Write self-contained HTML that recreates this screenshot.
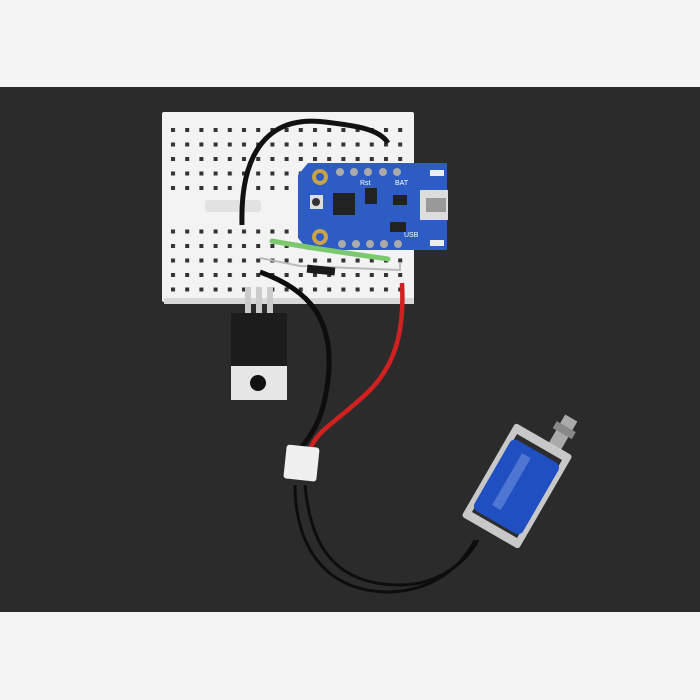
<!DOCTYPE html>
<html><head><style>body{margin:0;background:#f4f4f4}svg{display:block}</style></head><body>
<svg width="700" height="700" viewBox="0 0 700 700" xmlns="http://www.w3.org/2000/svg">
<rect width="700" height="700" fill="#f4f4f4"/>
<rect y="87" width="700" height="525" fill="#2b2b2b"/>
<defs><pattern id="h" x="170" y="127" width="14.2" height="14.5" patternUnits="userSpaceOnUse"><rect x="1" y="1" width="4" height="4" fill="#333"/></pattern></defs>
<rect x="162" y="112" width="252" height="190" fill="#f3f3f3" rx="2"/>
<rect x="168" y="125" width="244" height="72" fill="url(#h)"/>
<rect x="168" y="222" width="244" height="72" fill="url(#h)"/>
<rect x="205" y="200" width="56" height="12" fill="#e2e2e2" rx="3"/>
<rect x="164" y="298" width="250" height="6" fill="#d8d8d8"/>
<path d="M242 225 C240 150 270 115 325 122 C360 126 380 130 388 143" stroke="#111" stroke-width="5" fill="none"/>
<path d="M298 175 L308 163 H447 V250 H308 L298 238 Z" fill="#2c5cc4"/>
<circle cx="320" cy="177" r="8" fill="#c9a34a"/><circle cx="320" cy="177" r="4" fill="#2c5cc4"/>
<circle cx="320" cy="237" r="8" fill="#c9a34a"/><circle cx="320" cy="237" r="4" fill="#2c5cc4"/>
<rect x="310" y="195" width="13" height="14" fill="#ddd"/><circle cx="316" cy="202" r="4" fill="#333"/>
<rect x="333" y="193" width="22" height="22" fill="#222"/>
<rect x="365" y="188" width="12" height="16" fill="#222"/><rect x="393" y="195" width="14" height="10" fill="#222"/>
<rect x="390" y="222" width="16" height="10" fill="#222"/>
<rect x="420" y="190" width="28" height="30" fill="#ddd"/><rect x="426" y="198" width="20" height="14" fill="#999"/>
<g fill="#aaa"><circle cx="340" cy="172" r="4"/><circle cx="354" cy="172" r="4"/><circle cx="368" cy="172" r="4"/><circle cx="383" cy="172" r="4"/><circle cx="397" cy="172" r="4"/>
<circle cx="342" cy="244" r="4"/><circle cx="356" cy="244" r="4"/><circle cx="370" cy="244" r="4"/><circle cx="384" cy="244" r="4"/><circle cx="398" cy="244" r="4"/></g>
<rect x="430" y="170" width="14" height="6" fill="#eee"/><rect x="430" y="240" width="14" height="6" fill="#eee"/>
<text x="360" y="185" font-family="Liberation Sans" font-size="7" fill="#fff">Rst</text>
<text x="395" y="185" font-family="Liberation Sans" font-size="7" fill="#fff">BAT</text>
<text x="404" y="237" font-family="Liberation Sans" font-size="7" fill="#fff">USB</text>
<path d="M272 241 C310 248 360 255 388 259" stroke="#7cc86e" stroke-width="5" fill="none" stroke-linecap="round"/>
<path d="M260 258 L300 266 L400 270 L400 262" stroke="#bbb" stroke-width="2" fill="none"/>
<rect x="307" y="266" width="28" height="8" fill="#1a1a1a" transform="rotate(6 320 270)"/>
<g fill="#ccc"><rect x="245" y="287" width="6" height="28"/><rect x="256" y="287" width="6" height="28"/><rect x="267" y="287" width="6" height="28"/></g>
<rect x="231" y="313" width="56" height="54" fill="#1c1c1c"/>
<rect x="231" y="366" width="56" height="34" fill="#e6e6e6"/>
<circle cx="258" cy="383" r="8" fill="#111"/>
<path d="M260 272 C310 290 335 320 328 380 C322 430 305 440 300 450" stroke="#0d0d0d" stroke-width="5" fill="none"/>
<path d="M402 283 C404 320 400 360 370 390 C340 420 316 430 310 450" stroke="#d02020" stroke-width="4.5" fill="none"/>
<path d="M305 485 C310 540 330 585 400 585 C440 585 468 560 478 540" stroke="#0d0d0d" stroke-width="3" fill="none"/>
<path d="M295 485 C295 540 320 592 390 592 C440 590 465 560 475 540" stroke="#0d0d0d" stroke-width="3" fill="none"/>
<rect x="285" y="446" width="33" height="34" fill="#f0f0f0" rx="3" transform="rotate(6 301 463)"/>
<g transform="rotate(30 517 486)">
<rect x="523" y="400" width="14" height="35" fill="#aaa"/>
<rect x="519" y="410" width="22" height="8" fill="#888"/>
<rect x="484" y="432" width="66" height="108" fill="#c8c8c8" rx="3"/>
<rect x="491" y="441" width="52" height="90" fill="#2c2c2c"/>
<rect x="489" y="446" width="56" height="82" fill="#1f4fc0" rx="6"/>
<rect x="505" y="455" width="10" height="60" fill="#6f8fe0" opacity="0.6"/>
</g>
</svg>
</body></html>
